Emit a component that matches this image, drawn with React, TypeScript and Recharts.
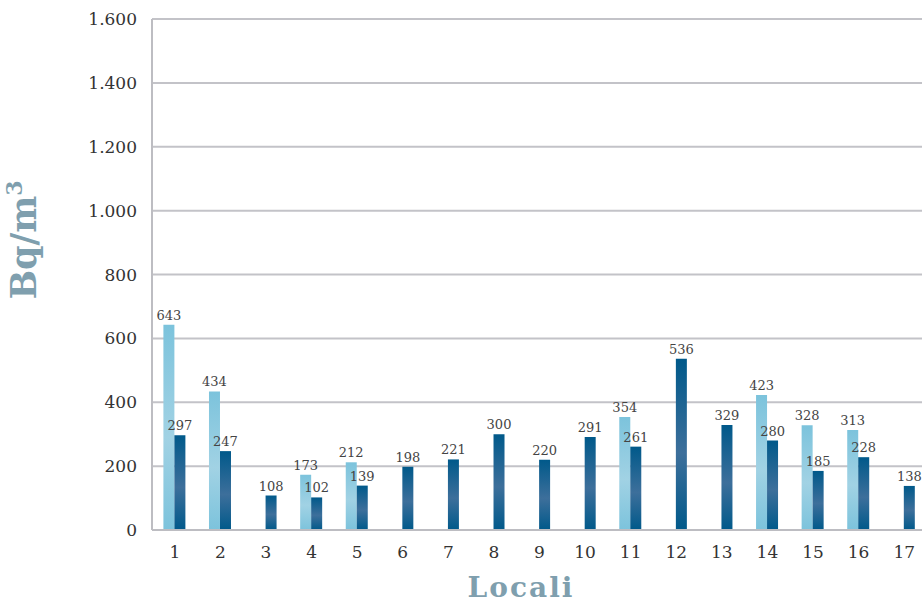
import { Bar, BarChart, CartesianGrid, Label, LabelList, XAxis, YAxis } from 'recharts';

const locali = ['1', '2', '3', '4', '5', '6', '7', '8', '9', '10', '11', '12', '13', '14', '15', '16', '17'];
const serieChiara = [643, 434, null, 173, 212, null, null, null, null, null, 354, null, null, 423, 328, 313, null];
const serieScura = [297, 247, 108, 102, 139, 198, 221, 300, 220, 291, 261, 536, 329, 280, 185, 228, 138];
const yTicks = [0, 200, 400, 600, 800, 1000, 1200, 1400, 1600];

const data = locali.map((l, i) => ({ locale: l, chiara: serieChiara[i], scura: serieScura[i] }));

const font = 'DejaVu Serif';
const titleColor = '#7f9fae';

// 1600 -> "1.600"
const fmt = (v: number) => (v >= 1000 ? `${Math.floor(v / 1000)}.${String(v % 1000).padStart(3, '0')}` : String(v));

function YTitle() {
  return (
    <text
      x={36}
      y={240}
      transform='rotate(-90, 36, 240)'
      textAnchor='middle'
      fill={titleColor}
      fontFamily={font}
      fontWeight='bold'
      fontSize={35}
    >
      Bq/m<tspan fontSize={22} dy={-14}>3</tspan>
    </text>
  );
}

function XTitle() {
  return (
    <text
      x={521}
      y={597}
      textAnchor='middle'
      fill={titleColor}
      fontFamily={font}
      fontWeight='bold'
      fontSize={28}
      letterSpacing={2}
    >
      Locali
    </text>
  );
}

export default function App() {
  return (
    <div style={{ position: 'absolute', left: 0, top: 0, width: 922, height: 606, overflow: 'hidden', background: '#fff' }}>
      <BarChart
        width={940}
        height={606}
        data={data}
        margin={{ top: 19, right: 13, left: 0, bottom: 0 }}
        barCategoryGap='25%'
        barGap={0}
      >
        <defs>
          <linearGradient id='gradChiaro' x1='0' y1='0' x2='0' y2='1'>
            <stop offset='0%' stopColor='#7cc3dc' />
            <stop offset='55%' stopColor='#a1d2e4' />
            <stop offset='100%' stopColor='#7cc3dc' />
          </linearGradient>
          <linearGradient id='gradScuro' x1='0' y1='0' x2='0' y2='1'>
            <stop offset='0%' stopColor='#00598a' />
            <stop offset='55%' stopColor='#3d6f9b' />
            <stop offset='100%' stopColor='#00598a' />
          </linearGradient>
        </defs>
        <CartesianGrid vertical={false} stroke='#c3c3c8' strokeWidth={2} />
        <XAxis
          dataKey='locale'
          height={76}
          axisLine={{ stroke: '#bdbdc2', strokeWidth: 2 }}
          tickLine={false}
          tickSize={0}
          tickMargin={16}
          interval={0}
          tick={{ fill: '#333', fontSize: 17, fontFamily: font }}
        >
          <Label content={() => <XTitle />} />
        </XAxis>
        <YAxis
          width={152}
          domain={[0, 1600]}
          ticks={yTicks}
          tickFormatter={fmt}
          axisLine={{ stroke: '#bdbdc2', strokeWidth: 2 }}
          tickLine={false}
          tickSize={0}
          tickMargin={15}
          tick={{ fill: '#333', fontSize: 17, fontFamily: font }}
        >
          <Label content={() => <YTitle />} />
        </YAxis>
        <Bar dataKey='chiara' fill='url(#gradChiaro)' isAnimationActive={false}>
          <LabelList dataKey='chiara' position='top' fill='#444' fontSize={13} fontFamily={font} />
        </Bar>
        <Bar dataKey='scura' fill='url(#gradScuro)' isAnimationActive={false}>
          <LabelList dataKey='scura' position='top' fill='#444' fontSize={13} fontFamily={font} />
        </Bar>
      </BarChart>
    </div>
  );
}
